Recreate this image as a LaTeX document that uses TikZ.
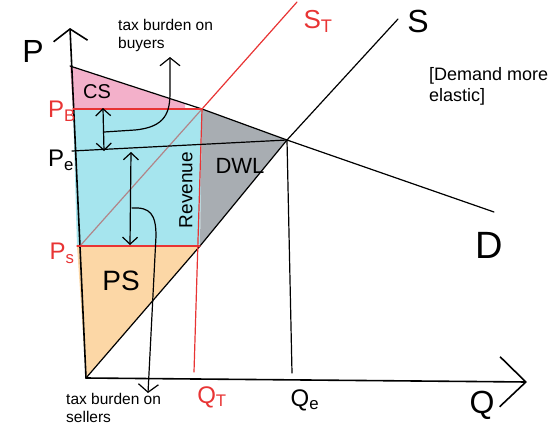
\documentclass[tikz,border=0pt]{standalone}
\usepackage{fontspec}
\setmainfont{Liberation Sans}
\usetikzlibrary{arrows.meta}

\definecolor{csfill}{RGB}{243,176,202}
\definecolor{revfill}{RGB}{166,229,238}
\definecolor{psfill}{RGB}{252,215,166}
\definecolor{dwlfill}{RGB}{168,173,178}
\definecolor{taxred}{RGB}{232,52,52}

\begin{document}
\begin{tikzpicture}[
    x=1pt, y=-1pt,
    hand/.style={font=\fontsize{#1}{#1}\selectfont, inner sep=0pt},
    hand/.default=20,
    note/.style={font=\fontsize{15.5}{18}\selectfont, align=left, inner sep=0pt, anchor=west},
    curve/.style={line width=1.2pt, line cap=round, line join=round},
    taxline/.style={curve, taxred},
    twoway/.style={curve, {Straight Barb[length=7pt,width=15pt]}-{Straight Barb[length=7pt,width=15pt]}},
    burden/.style={curve, -{Straight Barb[length=8pt,width=20pt]}}
]
    \useasboundingbox (0,0) rectangle (560,426);

    % Key points
    \coordinate (O) at (86,378);
    \coordinate (Ytop) at (70,28);
    \coordinate (Xend) at (527,382);
    \coordinate (Dstart) at (70,66);
    \coordinate (B) at (202,109);
    \coordinate (E) at (287,140);
    \coordinate (Dend) at (494,212);
    \coordinate (Spt) at (200,246);
    \coordinate (Send) at (398,19);
    \coordinate (STstart) at (80,246);
    \coordinate (STend) at (297,2);
    \coordinate (PBaxis) at (73,109);
    \coordinate (PSaxis) at (77,246);
    \coordinate (PEaxis) at (72,151);
    \coordinate (QT) at (194,372);
    \coordinate (QE) at (292,373);
    \coordinate (CSend) at (185,104);

    % Shaded areas
    \fill[csfill] (Dstart) -- (CSend) -- (185,109) -- (PBaxis) -- cycle;
    \fill[revfill] (PBaxis) -- (B) -- (Spt) -- (PSaxis) -- cycle;
    \fill[psfill] (PSaxis) -- (Spt) -- (O) -- cycle;
    \fill[dwlfill] (B) -- (E) -- (Spt) -- cycle;

    % Axes
    \draw[line width=1.6pt, line cap=round, -{Straight Barb[length=12pt,width=34pt]}] (O) -- (Ytop);
    \draw[line width=1.6pt, line cap=round, -{Straight Barb[length=26pt,width=50pt]}] (O) -- (Xend);

    % Supply, taxed supply and demand
    \draw[curve] (Dstart) -- (B) -- (E) -- (Dend);
    \draw[curve] (O) -- (Spt) -- (E) -- (Send);
    \draw[curve, red!45!gray, opacity=0.6] (STstart) -- (B);
    \draw[taxline] (B) -- (STend);

    % Price and quantity lines
    \draw[taxline] (PBaxis) -- (B);
    \draw[taxline] (PSaxis) -- (Spt);
    \draw[taxline] (B) -- (QT);
    \draw[curve] (PEaxis) -- (E);
    \draw[curve] (E) -- (QE);

    % Tax burden arrows
    \coordinate (bTop) at (103,108);
    \coordinate (bBot) at (104,151);
    \coordinate (bMid) at (104,132);
    \coordinate (bTip) at (170,57);
    \coordinate (sTop) at (131,152);
    \coordinate (sBot) at (130,245);
    \coordinate (sMid) at (132,208);
    \coordinate (sTip) at (148,393);
    \draw[twoway] (bTop) -- (bBot);
    \draw[twoway] (sTop) -- (sBot);
    \draw[burden] (bMid) -- (135,130) .. controls (166,127) and (170,112) .. (170,92) -- (bTip);
    \draw[burden] (sMid) .. controls (150,207) and (156,214) .. (156,236) -- (sTip);

    % Axis and curve labels
    \node[hand=32] (lblP) at (33,51) {P};
    \node[hand=32] (lblQ) at (482,405) {Q};
    \node[hand=32] (lblS) at (418,21) {S};
    \node[hand=26, taxred] (lblST) at (318,21) {S\textsubscript{T}};
    \node[hand=38] (lblD) at (489,245) {D};
    \node[hand=24, taxred] (lblPB) at (62,111) {P\textsubscript{B}};
    \node[hand=24] (lblPE) at (61,160) {P\textsubscript{e}};
    \node[hand=24, taxred] (lblPS) at (62,253) {P\textsubscript{s}};
    \node[hand=24, taxred] (lblQT) at (212,397) {Q\textsubscript{T}};
    \node[hand=24] (lblQE) at (305,400) {Q\textsubscript{e}};

    % Area labels
    \node[hand=20] (lblCS) at (97,92) {CS};
    \node[hand=28] (lblPSarea) at (121,281) {PS};
    \node[hand=22] (lblDWL) at (240,166) {DWL};
    \node[hand=19, rotate=90] (lblRev) at (186,190) {Revenue};

    % Notes
    \node[note] (buyers) at (118,35) {tax burden on\\buyers};
    \node[note] (sellers) at (66,408) {tax burden on\\sellers};
    \node[note, font=\fontsize{18}{21}\selectfont] (elastic) at (429,86) {[Demand more\\elastic]};
\end{tikzpicture}
\end{document}
